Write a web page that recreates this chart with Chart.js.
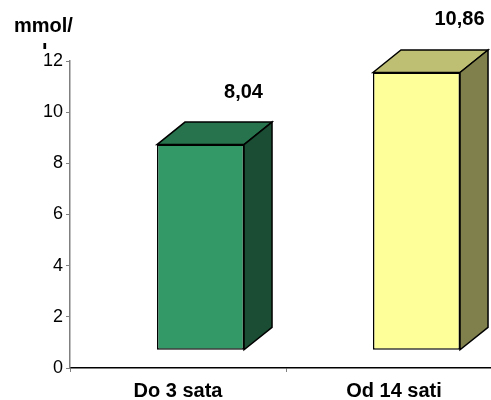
<!DOCTYPE html>
<html>
<head>
<meta charset="utf-8">
<script src="https://cdn.jsdelivr.net/npm/chart.js@4/dist/chart.umd.min.js"></script>
<style>
  html, body { margin: 0; padding: 0; background: #fff; }
  #wrap { width: 491px; height: 400px; }
</style>
</head>
<body>
<div id="wrap"><canvas id="c" width="491" height="400"></canvas></div>
<script>
// Glucose level groups (mmol/l)
const categories = ['Do 3 sata', 'Od 14 sati'];
const values = [8.04, 10.86];
const yTicks = [0, 2, 4, 6, 8, 10, 12];
const unitLabel = ['mmol/', 'l'];

const frontColors = ['#339966', '#ffff99'];
const topColors   = ['#26734d', '#bfbf73'];
const sideColors  = ['#1a4d33', '#80804d'];

const FONT = '"Liberation Sans", Arial, sans-serif';
const DEPTH_X = 28, DEPTH_Y = 22.5;   // oblique depth of the 3D columns
const SHIFT_X = 22.5, LIFT_Y = 17.7;  // column front face offset from the floor edge
const X_AXIS_RIGHT = 502;             // category axis runs past the right edge

const fmt = v => v.toFixed(2).replace('.', ',');

// let the category axis extend beyond the canvas edge
const wideXAxis = {
  id: 'wideXAxis',
  afterLayout(chart) {
    const x = chart.scales.x;
    x.right = X_AXIS_RIGHT;
    x.width = x.right - x.left;
    x.configure();
  }
};

const box3d = {
  id: 'box3d',
  beforeDatasetsDraw(chart) {
    const ctx = chart.ctx;
    ctx.save();
    ctx.translate(SHIFT_X, -LIFT_Y);
  },
  afterDatasetsDraw(chart) {
    const ctx = chart.ctx;
    const meta = chart.getDatasetMeta(0);
    meta.data.forEach((bar, i) => {
      const l = bar.x - bar.width / 2, r = bar.x + bar.width / 2;
      const t = bar.y, b = bar.base;
      ctx.lineWidth = 1.5;
      ctx.strokeStyle = '#000';
      ctx.lineJoin = 'miter';
      // top face
      ctx.beginPath();
      ctx.moveTo(l, t);
      ctx.lineTo(l + DEPTH_X, t - DEPTH_Y);
      ctx.lineTo(r + DEPTH_X, t - DEPTH_Y);
      ctx.lineTo(r, t);
      ctx.closePath();
      ctx.fillStyle = topColors[i];
      ctx.fill();
      ctx.stroke();
      // side face
      ctx.beginPath();
      ctx.moveTo(r, t);
      ctx.lineTo(r + DEPTH_X, t - DEPTH_Y);
      ctx.lineTo(r + DEPTH_X, b - DEPTH_Y);
      ctx.lineTo(r, b);
      ctx.closePath();
      ctx.fillStyle = sideColors[i];
      ctx.fill();
      ctx.stroke();
      // value label above the column
      ctx.fillStyle = '#000';
      ctx.font = 'bold 20px ' + FONT;
      ctx.textAlign = 'center';
      ctx.textBaseline = 'middle';
      ctx.fillText(fmt(values[i]), bar.x + DEPTH_X + 15, t - DEPTH_Y - 30);
    });
    ctx.restore();
  }
};

const unitTitle = {
  id: 'unitTitle',
  afterDraw(chart) {
    const ctx = chart.ctx;
    ctx.save();
    ctx.fillStyle = '#000';
    ctx.font = 'bold 20px ' + FONT;
    ctx.textAlign = 'left';
    ctx.textBaseline = 'alphabetic';
    ctx.fillText(unitLabel[0], 14, 32);
    // second line is cut off by the plot area
    ctx.beginPath();
    ctx.rect(0, 40, 70, 9);
    ctx.clip();
    ctx.fillText(unitLabel[1], 42, 58);
    ctx.restore();
  }
};

new Chart(document.getElementById('c'), {
  type: 'bar',
  data: {
    labels: categories,
    datasets: [{
      data: values,
      backgroundColor: frontColors,
      borderColor: '#000',
      borderWidth: 1.5,
      borderSkipped: false,
      barPercentage: 0.403,
      categoryPercentage: 1,
      clip: false
    }]
  },
  options: {
    responsive: false,
    animation: false,
    devicePixelRatio: 1,
    layout: { padding: { top: 61, left: 0, right: 0, bottom: 0 } },
    plugins: { legend: { display: false }, tooltip: { enabled: false } },
    scales: {
      x: {
        offset: true,
        grid: { display: true, drawOnChartArea: false, offset: true, tickLength: 4, color: '#808080' },
        border: { display: true, color: '#000', width: 1.5 },
        ticks: { color: '#000', font: { family: FONT, size: 20, weight: 'bold' }, padding: 7 },
        afterFit(s) { s.height = 32; }
      },
      y: {
        min: 0, max: 12,
        afterBuildTicks(s) { s.ticks = yTicks.map(v => ({ value: v })); },
        grid: { display: true, drawOnChartArea: false, tickLength: 4, color: '#808080' },
        border: { display: true, color: '#808080', width: 1.5 },
        ticks: { color: '#000', font: { family: FONT, size: 18 }, padding: 3 },
        afterFit(s) { s.width = 70; }
      }
    }
  },
  plugins: [wideXAxis, box3d, unitTitle]
});
</script>
</body>
</html>
